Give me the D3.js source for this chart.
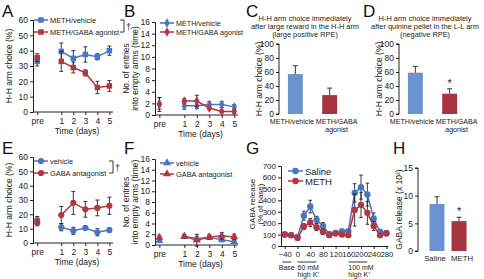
<!DOCTYPE html>
<html><head><meta charset="utf-8">
<script src="https://cdn.jsdelivr.net/npm/d3@7"></script>
<style>body{margin:0;background:#fff}svg{display:block;font-family:"Liberation Sans",Arial,sans-serif}</style>
</head><body><svg id="c" width="484" height="279"></svg>
<script>
// ---------- DATA ----------
const dayLabels = ["pre","1","2","3","4","5"];
// Panel A: H-H arm choice (%)
const aVehicle = [33, 39.5, 35, 37.5, 36, 40];
const aVehicleErr = [3, 5.5, 5, 5, 2, 3];
const aAgonist = [35.5, 33, 29, 25.5, 16, 17];
const aAgonistErr = [2.5, 6.5, 3.5, 2, 4, 3.5];
// Panel B: No. of entries into empty arms
const bVehicle = [2, 1.6, 1.6, 1.8, 1.8, 1.4];
const bVehicleErr = [1, 0.6, 0.5, 0.5, 0.5, 0.4];
const bAgonist = [1.8, 2.4, 2.4, 1.2, 0.6, 0.6];
const bAgonistErr = [1.2, 0.4, 1, 0.3, 0.2, 0.3];
// Panel C & D bars
const barGroups = ["METH/vehicle", "METH/GABA agonist"];
const cValues = [57, 27];
const cErr = [12, 10];
const dValues = [59, 29];
const dErr = [9, 7];
// Panel E
const eVehicle = [16, 11, 8.5, 10.5, 7.5, 9];
const eVehicleErr = [2.5, 2.5, 2.5, 1, 2.5, 1.5];
const eAntagonist = [14, 19.5, 28, 23.5, 24.5, 26];
const eAntagonistErr = [2, 6, 8, 5.5, 5.5, 6];
// Panel F
const fVehicle = [0.8, 1.6, 1.2, 1.4, 1.0, 0.6];
const fVehicleErr = [0.3, 0.3, 0.3, 0.3, 0.4, 0.3];
const fAntagonist = [1.4, 1.6, 0.9, 1.5, 1.7, 1.5];
const fAntagonistErr = [0.4, 0.3, 1.1, 0.4, 0.6, 0.5];
// Panel G: GABA release (% of base)
const gTime = [-40,-20,0,20,40,60,80,100,120,140,160,180,200,220,240,260,280];
const gSaline = [100,95,80,265,345,230,175,105,115,130,130,465,515,450,240,125,115];
const gSalineErr = [10,8,10,40,55,30,30,10,10,15,15,80,105,100,50,15,10];
const gMeth = [100,95,70,170,205,165,125,95,110,100,95,315,360,290,175,95,110];
const gMethErr = [10,8,10,25,35,30,25,10,10,10,10,140,110,100,40,15,10];
const gPeriods = [["Base", "", -48, -20], ["60 mM", "high K⁺", 0, 60], ["100 mM", "high K⁺", 160, 220]];
// Panel H
const hGroups = ["Saline","METH"];
const hValues = [8.5, 5.4];
const hErr = [1.3, 0.7];

const BLUE = "#4a74c4", RED = "#b03842", BLUEBAR = "#6a93cf", REDBAR = "#a8343f", INK = "#222";
const svg = d3.select("#c");
const FS = 8.5;

function letter(x, y, t) {
  svg.append("text").attr("x", x).attr("y", y).attr("font-size", 17).attr("fill", "#111").text(t);
}
function styleAxis(g, fs) {
  g.selectAll("path,line").attr("stroke", INK).attr("stroke-width", 1);
  g.selectAll("text").attr("font-size", fs || FS).attr("fill", INK);
}
function marker(sel, shape, size) {
  const sym = {square: d3.symbolSquare, diamond: d3.symbolDiamond, circle: d3.symbolCircle, triangle: d3.symbolTriangle}[shape];
  return sel.attr("d", d3.symbol().type(sym).size(size));
}
function ylabel(x, y, lines, fs) {
  const t = svg.append("text").attr("transform", `translate(${x},${y}) rotate(-90)`)
    .attr("text-anchor", "middle").attr("font-size", fs || FS).attr("fill", INK);
  lines.forEach((l, i) => t.append("tspan").attr("x", 0).attr("dy", i ? "1.05em" : 0).text(l));
}

// generic line chart over days
function dayPanel(o) {
  const x = d3.scaleLinear().domain([-0.35, 6.3]).range([o.x0, o.x1]);
  const pos = i => i === 0 ? 0 : i + 1;
  const y = d3.scaleLinear().domain([0, o.ymax]).range([o.y0, o.y1]);
  const gy = svg.append("g").attr("transform", `translate(${o.x0},0)`)
    .call(d3.axisLeft(y).tickValues(d3.range(0, o.ymax + 0.01, o.ystep)).tickSize(3).tickPadding(2));
  styleAxis(gy);
  const gx = svg.append("g").attr("transform", `translate(0,${o.y0})`)
    .call(d3.axisBottom(x).tickValues(dayLabels.map((d, i) => pos(i))).tickFormat((d, i) => dayLabels[i]).tickSize(3).tickPadding(3).tickSizeOuter(0));
  styleAxis(gx);
  gx.select(".domain").attr("d", `M${o.x0},0H${o.x1}`);
  svg.append("text").attr("x", (o.x0 + o.x1) / 2 + 4).attr("y", o.y0 + 22).attr("text-anchor", "middle")
    .attr("font-size", FS).attr("fill", INK).text("Time (days)");
  ylabel(o.ylx, (o.y0 + o.y1) / 2, o.ylab);
  o.series.forEach(s => {
    const g = svg.append("g");
    s.v.forEach((v, i) => {
      const e = s.e[i], cx = x(pos(i));
      g.append("line").attr("x1", cx).attr("x2", cx).attr("y1", y(v - e)).attr("y2", y(v + e)).attr("stroke", INK).attr("stroke-width", 0.9);
      [v - e, v + e].forEach(w => g.append("line").attr("x1", cx - 2).attr("x2", cx + 2).attr("y1", y(w)).attr("y2", y(w)).attr("stroke", INK).attr("stroke-width", 0.9));
    });
    const line = d3.line().x((v, i) => x(pos(i + 1))).y(v => y(v));
    g.append("path").attr("d", line(s.v.slice(1))).attr("fill", "none").attr("stroke", s.c).attr("stroke-width", 1.5);
    s.v.forEach((v, i) => {
      g.append("path").call(marker, o.shape, o.msize).attr("transform", `translate(${x(pos(i))},${y(v)})`).attr("fill", s.c);
    });
  });
  o.series.forEach((s, i) => {
    const ly = o.legY + i * o.legDy;
    svg.append("line").attr("x1", o.legX).attr("x2", o.legX + 14).attr("y1", ly).attr("y2", ly).attr("stroke", s.c).attr("stroke-width", 1.5);
    svg.append("path").call(marker, o.shape, o.msize).attr("transform", `translate(${o.legX + 7},${ly})`).attr("fill", s.c);
    svg.append("text").attr("x", o.legX + 16).attr("y", ly + 3).attr("font-size", o.legFs || 7.4).attr("fill", INK).text(s.name);
  });
  if (o.bracket) {
    const bx = o.bracket, y1 = o.legY, y2 = o.legY + o.legDy;
    svg.append("path").attr("d", `M${bx - 4},${y1}H${bx}V${y2}H${bx - 4}`).attr("fill", "none").attr("stroke", INK).attr("stroke-width", 0.9);
    svg.append("text").attr("x", bx + 2).attr("y", (y1 + y2) / 2 + 4).attr("font-size", 9).attr("fill", INK).text("†");
  }
}

function barPanel(o) {
  const x = d3.scaleBand().domain(o.groups).range([o.x0, o.x1]).paddingInner(o.pin).paddingOuter(o.pout);
  const y = d3.scaleLinear().domain([0, o.ymax]).range([o.y0, o.y1]);
  const gy = svg.append("g").attr("transform", `translate(${o.x0},0)`)
    .call(d3.axisLeft(y).tickValues(d3.range(0, o.ymax + 0.01, o.ystep)).tickSize(3).tickPadding(2));
  styleAxis(gy);
  gy.select(".domain").attr("d", `M-3,${o.y1}H0V${o.y0}H-3`);
  ylabel(o.ylx, (o.y0 + o.y1) / 2, o.ylab);
  o.values.forEach((v, i) => {
    const g = o.groups[i], bx = x(g), bw = x.bandwidth(), cx = bx + bw / 2;
    svg.append("rect").attr("x", bx).attr("y", y(v)).attr("width", bw).attr("height", o.y0 - y(v)).attr("fill", o.colors[i]);
    const top = y(v + o.err[i]);
    svg.append("line").attr("x1", cx).attr("x2", cx).attr("y1", y(v)).attr("y2", top).attr("stroke", INK).attr("stroke-width", 0.9);
    svg.append("line").attr("x1", cx - 2.5).attr("x2", cx + 2.5).attr("y1", top).attr("y2", top).attr("stroke", INK).attr("stroke-width", 0.9);
    if (o.star && o.star[i]) svg.append("text").attr("x", cx).attr("y", top - 2).attr("text-anchor", "middle").attr("font-size", 11).attr("fill", INK).text("*");
    o.labels[i].forEach((l, k) => svg.append("text").attr("x", cx + (o.lshift ? o.lshift[i] : 0)).attr("y", o.y0 + 10 + k * 7.5)
      .attr("text-anchor", "middle").attr("font-size", o.lfs || 7.1).attr("fill", INK).text(l));
  });
  if (o.title) o.title.forEach((t, k) => svg.append("text").attr("x", o.tx).attr("y", o.ty + k * 8).attr("text-anchor", "middle").attr("font-size", 7.4).attr("fill", INK).text(t));
}

// ---------- PANELS ----------
letter(2, 17, "A");
dayPanel({x0: 33, x1: 113, y0: 112, y1: 20, ymax: 60, ystep: 10, shape: "square", msize: 30,
  ylx: 12, ylab: ["H-H arm choice (%)"],
  series: [{name: "METH/vehicle", v: aVehicle, e: aVehicleErr, c: BLUE}, {name: "METH/GABA agonist", v: aAgonist, e: aAgonistErr, c: RED}],
  legX: 34, legY: 20, legDy: 12, bracket: 124});

letter(124, 17, "B");
dayPanel({x0: 155, x1: 238, y0: 115, y1: 22, ymax: 16, ystep: 2, shape: "diamond", msize: 26,
  ylx: 129, ylab: ["No. of entries", "into empty arms (time)"],
  series: [{name: "METH/vehicle", v: bVehicle, e: bVehicleErr, c: BLUE}, {name: "METH/GABA agonist", v: bAgonist, e: bAgonistErr, c: RED}],
  legX: 160, legY: 23, legDy: 9, legFs: 7.2});

letter(246, 17, "C");
barPanel({x0: 279, x1: 346, y0: 114, y1: 44, ymax: 100, ystep: 20, groups: barGroups, values: cValues, err: cErr,
  colors: [BLUEBAR, REDBAR], pin: 0.565, pout: 0.26, ylx: 262, ylab: ["H-H arm choice (%)"],
  labels: [["METH/vehicle"], ["METH/GABA", "agonist"]], lshift: [-3.5, 7],
  title: ["H-H arm choice immediately", "after large reward in the H-H arm", "(large positive RPE)"], tx: 305, ty: 21});

letter(363, 17, "D");
barPanel({x0: 399, x1: 466, y0: 114, y1: 44, ymax: 100, ystep: 20, groups: barGroups, values: dValues, err: dErr,
  colors: [BLUEBAR, REDBAR], pin: 0.565, pout: 0.26, ylx: 382, ylab: ["H-H arm choice (%)"], star: [false, true],
  labels: [["METH/vehicle"], ["METH/GABA", "agonist"]], lshift: [-3.5, 7],
  title: ["H-H arm choice immediately", "after quinine pellet in the L-L arm", "(negative RPE)"], tx: 425, ty: 21});

letter(2, 154, "E");
dayPanel({x0: 33, x1: 113, y0: 243, y1: 157, ymax: 60, ystep: 10, shape: "circle", msize: 30,
  ylx: 12, ylab: ["H-H arm choice (%)"],
  series: [{name: "vehicle", v: eVehicle, e: eVehicleErr, c: BLUE}, {name: "GABA antagonist", v: eAntagonist, e: eAntagonistErr, c: RED}],
  legX: 34, legY: 161, legDy: 12, bracket: 113});

letter(124, 154, "F");
dayPanel({x0: 155, x1: 238, y0: 245, y1: 159, ymax: 16, ystep: 2, shape: "triangle", msize: 28,
  ylx: 129, ylab: ["No. of entries", "into empty arms (time)"],
  series: [{name: "vehicle", v: fVehicle, e: fVehicleErr, c: BLUE}, {name: "GABA antagonist", v: fAntagonist, e: fAntagonistErr, c: RED}],
  legX: 160, legY: 163, legDy: 11});

// Panel G
letter(246, 154, "G");
(function () {
  const x0 = 281, x1 = 388, y0 = 246, y1 = 166;
  const x = d3.scaleLinear().domain([-52, 285]).range([x0, x1]);
  const y = d3.scaleLinear().domain([0, 700]).range([y0, y1]);
  const gy = svg.append("g").attr("transform", `translate(${x0},0)`).call(d3.axisLeft(y).tickValues(d3.range(0, 701, 100)).tickSize(3).tickPadding(2));
  styleAxis(gy, 8);
  const gx = svg.append("g").attr("transform", `translate(0,${y0})`).call(d3.axisBottom(x).tickValues(d3.range(-40, 281, 40)).tickSize(3).tickPadding(2).tickSizeOuter(0));
  styleAxis(gx, 7.8);
  ylabel(255, (y0 + y1) / 2 - 2, ["GABA release", "(% of base)"], 8);
  [[gSaline, gSalineErr, BLUE], [gMeth, gMethErr, RED]].forEach(([v, e, c]) => {
    v.forEach((d, i) => {
      const cx = x(gTime[i]);
      svg.append("line").attr("x1", cx).attr("x2", cx).attr("y1", y(d - e[i])).attr("y2", y(d + e[i])).attr("stroke", INK).attr("stroke-width", 0.9);
      [d - e[i], d + e[i]].forEach(w => svg.append("line").attr("x1", cx - 1.8).attr("x2", cx + 1.8).attr("y1", y(w)).attr("y2", y(w)).attr("stroke", INK).attr("stroke-width", 0.9));
    });
    svg.append("path").attr("d", d3.line().x((d, i) => x(gTime[i])).y(d => y(d))(v)).attr("fill", "none").attr("stroke", c).attr("stroke-width", 1.5);
    v.forEach((d, i) => svg.append("circle").attr("cx", x(gTime[i])).attr("cy", y(d)).attr("r", 3.2).attr("fill", c));
  });
  [["Saline", BLUE], ["METH", RED]].forEach(([n, c], i) => {
    const ly = 171 + i * 10;
    svg.append("line").attr("x1", 288).attr("x2", 303).attr("y1", ly).attr("y2", ly).attr("stroke", c).attr("stroke-width", 1.5);
    svg.append("circle").attr("cx", 295.5).attr("cy", ly).attr("r", 3.2).attr("fill", c);
    svg.append("text").attr("x", 305).attr("y", ly + 3.5).attr("font-size", 9.5).attr("fill", INK).text(n);
  });
  gPeriods.forEach(([a, b, s, e]) => {
    svg.append("line").attr("x1", x(s)).attr("x2", x(e)).attr("y1", 262).attr("y2", 262).attr("stroke", INK).attr("stroke-width", 0.9);
    const lx = b ? x(s) : (x(s) + x(e)) / 2;
    svg.append("text").attr("x", lx).attr("y", 270).attr("text-anchor", b ? "start" : "middle").attr("font-size", 7).attr("fill", INK).text(a);
    if (b) svg.append("text").attr("x", lx).attr("y", 277).attr("font-size", 7).attr("fill", INK).text(b);
  });
})();

letter(393, 154, "H");
barPanel({x0: 418, x1: 478, y0: 251, y1: 168, ymax: 15, ystep: 5, groups: hGroups, values: hValues, err: hErr,
  colors: [BLUEBAR, REDBAR], pin: 0.32, pout: 0.52, ylx: 402, ylab: ["GABA release (x 10²)"], star: [false, true],
  labels: [["Saline"], ["METH"]], lfs: 7.8, lshift: [-2, 3]});
</script></body></html>
